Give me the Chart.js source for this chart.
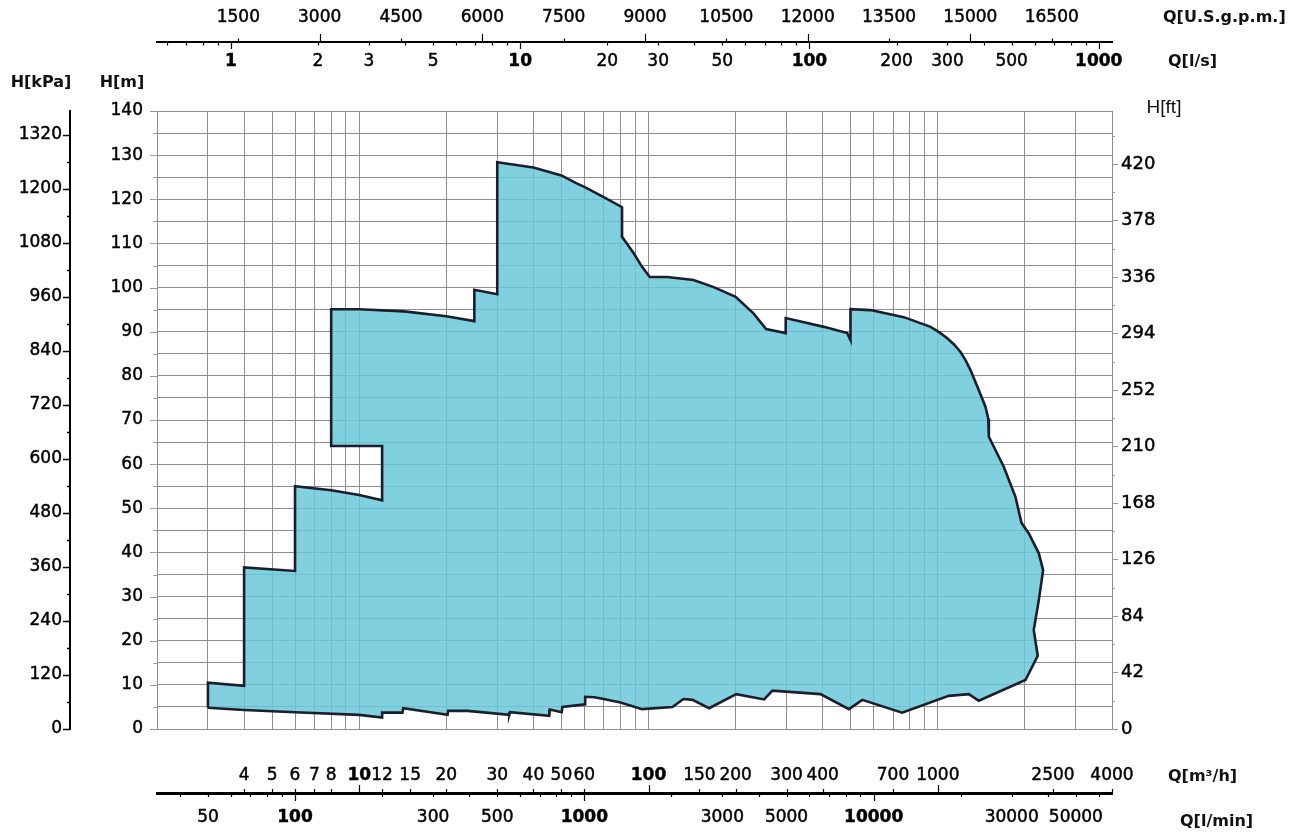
<!DOCTYPE html>
<html>
<head>
<meta charset="utf-8">
<title>Pump performance range</title>
<script src="https://cdn.jsdelivr.net/npm/chart.js@4.4.1/dist/chart.umd.min.js"></script>
<style>
  html, body { margin: 0; padding: 0; background: #ffffff; overflow: hidden; }
  #wrap { position: relative; width: 1308px; height: 840px; }
</style>
</head>
<body>
<div id="wrap"><canvas id="chart" width="1308" height="840"></canvas></div>
<script>
// ---------------- data (flow Q in m³/h, head H in m) ----------------
// upper / right edge of the performance field, from the lower-left corner clockwise
const upperFlow = [3, 3, 4, 4, 6, 6, 8, 10, 12, 12, 8, 8, 10, 14.3, 20, 25, 25, 30, 30, 40, 50, 56, 60, 70, 81, 81, 89, 95, 101, 116, 143, 168, 200, 231, 255, 298, 298, 404, 486, 499, 499, 585, 763, 944, 1010, 1078, 1138, 1198, 1248, 1297, 1377, 1461, 1494, 1501, 1690, 1855, 1946, 2063, 2234, 2312, 2234, 2146, 2215, 2009];
const upperHead = [4.8, 10.5, 9.8, 36.6, 35.8, 55.0, 54.1, 53.0, 51.8, 64.1, 64.1, 95.1, 95.1, 94.6, 93.5, 92.4, 99.5, 98.5, 128.4, 127.2, 125.4, 123.7, 122.8, 120.5, 118.2, 111.5, 107.7, 104.7, 102.4, 102.4, 101.7, 100.1, 97.9, 94.1, 90.6, 89.7, 93.1, 91.1, 89.7, 88.1, 95.1, 94.9, 93.3, 91.1, 89.9, 88.5, 87.1, 85.4, 83.5, 81.3, 77.2, 73.0, 70.3, 66.2, 59.4, 52.6, 46.7, 44.3, 39.8, 36.0, 29.2, 22.4, 16.6, 11.1];
// lower edge, from right to left back to the start
const lowerFlow = [1386, 1280, 1091, 753, 548, 493, 393, 268, 251, 201, 162, 142, 132, 121, 95, 80, 70, 65, 60.4, 60.4, 50.4, 50.1, 45.6, 45.4, 33.2, 33.0, 23.7, 20.3, 20.2, 14.2, 14.1, 12, 12, 10, 6, 4, 3];
const lowerHead = [6.4, 7.9, 7.5, 3.7, 6.6, 4.5, 7.9, 8.7, 6.7, 7.9, 4.7, 6.6, 6.8, 5.0, 4.5, 6.0, 6.8, 7.2, 7.3, 5.6, 5.0, 3.8, 4.4, 3.0, 3.8, 3.2, 4.1, 4.1, 3.2, 4.7, 3.7, 3.7, 2.6, 3.2, 3.8, 4.3, 4.8];

// ---------------- axis ranges and tick labels ----------------
const flowRange = [2, 4000];       // m³/h
const headRange = [0, 140];        // m
const m3hLabels  = [4, 5, 6, 7, 8, 10, 12, 15, 20, 30, 40, 50, 60, 100, 150, 200, 300, 400, 700, 1000, 2500, 4000];
const lminLabels = [50, 100, 300, 500, 1000, 3000, 5000, 10000, 30000, 50000];
const lsLabels   = [1, 2, 3, 5, 10, 20, 30, 50, 100, 200, 300, 500, 1000];
const gpmLabels  = [1500, 3000, 4500, 6000, 7500, 9000, 10500, 12000, 13500, 15000, 16500];
const kpaLabels  = [0, 120, 240, 360, 480, 600, 720, 840, 960, 1080, 1200, 1320];
const mLabels    = [0, 10, 20, 30, 40, 50, 60, 70, 80, 90, 100, 110, 120, 130, 140];
const ftLabels   = [0, 42, 84, 126, 168, 210, 252, 294, 336, 378, 420];
const m3hBold  = [10, 100];
const lminBold = [100, 1000, 10000];
const lsBold   = [1, 10, 100, 1000];

// unit conversions
const M_TO_KPA = 9.80665, M_TO_FT = 3.28084;
const M3H_TO_LMIN = 1000 / 60, M3H_TO_LS = 1 / 3.6, M3H_TO_GPM = 4.402868;

// ---------------- helpers ----------------
function logSteps(min, max) {
  const out = [];
  for (let e = Math.floor(Math.log10(min)); e <= Math.ceil(Math.log10(max)); e++) {
    for (let m = 1; m <= 9; m++) {
      const v = +(m * Math.pow(10, e)).toPrecision(6);
      if (v >= min * 0.9999 && v <= max * 1.0001) out.push(v);
    }
  }
  return out;
}
function stepList(first, last, step) {
  const out = [];
  for (let v = first; v <= last + 1e-9; v += step) out.push(+v.toFixed(6));
  return out;
}
const isDecade = v => Math.abs(Math.log10(v) - Math.round(Math.log10(v))) < 1e-9;
const setTicks = list => scale => { scale.ticks = list.map(v => ({ value: v })); };
const FONT = 'DejaVu Sans';
const tickFont = (boldList, size) => (ctx) => ({
  family: FONT, size: size || 17,
  weight: (boldList && ctx.tick && boldList.includes(ctx.tick.value)) ? 'bold' : 'normal'
});
const labelStyle = (boldList, padding, size) => ({
  autoSkip: false, maxRotation: 0, padding, color: '#000',
  textStrokeColor: '#000', textStrokeWidth: 0.45,
  font: tickFont(boldList, size)
});

const outline = upperFlow.map((q, i) => ({ x: q, y: upperHead[i] }))
  .concat(lowerFlow.map((q, i) => ({ x: q, y: lowerHead[i] })));

// ---------------- plugins: small tick marks and unit titles ----------------
const tickMarks = {
  id: 'tickMarks',
  afterDraw(chart) {
    const { ctx, scales: s } = chart;
    ctx.save();
    const hTicks = (scale, values, y, lenFn, dir, color, w) => {
      ctx.strokeStyle = color; ctx.lineWidth = w; ctx.beginPath();
      values.forEach(v => {
        const x = Math.round(scale.getPixelForValue(v)) + 0.5;
        ctx.moveTo(x, y); ctx.lineTo(x, y + dir * lenFn(v));
      });
      ctx.stroke();
    };
    const vTicks = (scale, values, x, lenFn, dir, color, w) => {
      ctx.strokeStyle = color; ctx.lineWidth = w; ctx.beginPath();
      values.forEach(v => {
        const y = Math.round(scale.getPixelForValue(v)) + 0.5;
        ctx.moveTo(x, y); ctx.lineTo(x + dir * lenFn(v), y);
      });
      ctx.stroke();
    };
    // kPa axis
    const kpaMax = headRange[1] * M_TO_KPA;
    vTicks(s.kpa, stepList(0, kpaMax, 60), s.kpa.right, v => (v % 120 === 0 ? 7 : 3), -1, '#000', 1.5);
    // m axis
    vTicks(s.y, stepList(0, headRange[1], 5), s.y.right, v => (v % 10 === 0 ? 7 : 3.5), -1, '#999', 1);
    // ft axis
    vTicks(s.ft, stepList(0, headRange[1] * M_TO_FT, 21), s.ft.left, v => (v % 42 === 0 ? 6 : 3), 1, '#999', 1);
    // US gpm (upwards from the top line)
    const yTop = s.xGpm.bottom;
    hTicks(s.xGpm, gpmLabels, yTop, v => (v % 3000 === 0 ? 8 : 3.5), -1, '#000', 1.2);
    // l/s (downwards from the top line)
    hTicks(s.xLs, logSteps(flowRange[0] * M3H_TO_LS, flowRange[1] * M3H_TO_LS), yTop, v => (isDecade(v) ? 7 : 3.5), 1, '#000', 1.2);
    // m³/h (upwards from the bottom line)
    const yBot = s.xLmin.top;
    hTicks(s.x, m3hLabels, yBot, v => (isDecade(v) ? 8 : 4), -1, '#000', 1.2);
    // l/min (downwards from the bottom line)
    hTicks(s.xLmin, logSteps(flowRange[0] * M3H_TO_LMIN, flowRange[1] * M3H_TO_LMIN), yBot, v => (isDecade(v) ? 8 : 4), 1, '#000', 1.2);
    ctx.restore();
  }
};

const unitTitles = {
  id: 'unitTitles',
  afterDraw(chart) {
    const { ctx, chartArea: a, scales: s } = chart;
    ctx.save();
    ctx.fillStyle = '#111';
    ctx.textBaseline = 'middle';
    const bold = 'bold 16px "' + FONT + '"';
    const put = (txt, x, y, align, font) => { ctx.font = font; ctx.textAlign = align; ctx.fillText(txt, x, y); };
    put('H[kPa]', s.kpa.right - 29, a.top - 28, 'center', bold);
    put('H[m]', s.y.right - 35, a.top - 28, 'center', bold);
    put('H[ft]', a.right + 52, a.top - 3, 'center', '19px "Liberation Sans"');
    put('Q[U.S.g.p.m.]', a.right + 51, s.xGpm.bottom - 24, 'left', bold);
    put('Q[l/s]', a.right + 56, a.top - 49, 'left', bold);
    put('Q[m³/h]', a.right + 56, s.x.top + 48, 'left', bold);
    put('Q[l/min]', a.right + 68, s.xLmin.top + 29, 'left', bold);
    ctx.restore();
  }
};

// ---------------- chart ----------------
const GRID = '#8f8f8f';
new Chart(document.getElementById('chart'), {
  type: 'scatter',
  data: {
    datasets: [{
      data: outline,
      xAxisID: 'x',
      yAxisID: 'y',
      showLine: true,
      fill: 'shape',
      tension: 0,
      pointRadius: 0,
      borderColor: '#1b1f2b',
      borderWidth: 2.6,
      borderJoinStyle: 'miter',
      backgroundColor: 'rgba(104, 199, 217, 0.84)'
    }]
  },
  options: {
    responsive: false,
    animation: false,
    events: [],
    layout: { padding: 0 },
    plugins: { legend: { display: false }, tooltip: { enabled: false }, title: { display: false } },
    scales: {
      xGrid: {
        type: 'logarithmic', position: 'bottom', weight: 0, bounds: 'data',
        min: flowRange[0], max: flowRange[1],
        afterBuildTicks: setTicks(logSteps(flowRange[0], flowRange[1])),
        afterFit: sc => { sc.height = 0; },
        ticks: { display: false },
        grid: { color: GRID, lineWidth: 1, drawTicks: false },
        border: { display: false }
      },
      x: {
        type: 'logarithmic', position: 'bottom', weight: 1, bounds: 'data',
        min: flowRange[0], max: flowRange[1],
        afterBuildTicks: setTicks(m3hLabels),
        afterFit: sc => { sc.height = 64; },
        grid: { display: false, drawTicks: false },
        border: { display: false },
        ticks: Object.assign(labelStyle(m3hBold, 36), { callback: v => String(v) })
      },
      xLmin: {
        type: 'logarithmic', position: 'bottom', weight: 2, bounds: 'data',
        min: flowRange[0] * M3H_TO_LMIN, max: flowRange[1] * M3H_TO_LMIN,
        afterBuildTicks: setTicks(lminLabels),
        afterFit: sc => { sc.height = 47; },
        grid: { display: false, drawTicks: false },
        border: { display: true, color: '#000', width: 3 },
        ticks: Object.assign(labelStyle(lminBold, 14), { callback: v => String(v) })
      },
      xLs: {
        type: 'logarithmic', position: 'top', weight: 1, bounds: 'data',
        min: flowRange[0] * M3H_TO_LS, max: flowRange[1] * M3H_TO_LS,
        afterBuildTicks: setTicks(lsLabels),
        afterFit: sc => { sc.height = 69; },
        grid: { display: false, drawTicks: false },
        border: { display: false },
        ticks: Object.assign(labelStyle(lsBold, 39), { callback: v => String(v) })
      },
      xGpm: {
        type: 'linear', position: 'top', weight: 2, bounds: 'data',
        min: 0, max: flowRange[1] * M3H_TO_GPM,
        afterBuildTicks: setTicks(gpmLabels),
        afterFit: sc => { sc.height = 42; },
        grid: { display: false, drawTicks: false },
        border: { display: true, color: '#000', width: 2 },
        ticks: Object.assign(labelStyle(null, 14), { callback: v => String(v) })
      },
      y: {
        type: 'linear', position: 'left', weight: 1, bounds: 'data',
        min: headRange[0], max: headRange[1],
        afterBuildTicks: setTicks(stepList(headRange[0], headRange[1], 5)),
        afterFit: sc => { sc.width = 87; },
        grid: { color: GRID, lineWidth: 1, drawTicks: false },
        border: { display: false },
        ticks: Object.assign(labelStyle(null, 14), { callback: v => (mLabels.includes(v) ? String(v) : '') })
      },
      kpa: {
        type: 'linear', position: 'left', weight: 2, bounds: 'data',
        min: headRange[0] * M_TO_KPA, max: headRange[1] * M_TO_KPA,
        afterBuildTicks: setTicks(kpaLabels),
        afterFit: sc => { sc.width = 70; },
        grid: { display: false, drawTicks: false },
        border: { display: true, color: '#000', width: 2 },
        ticks: Object.assign(labelStyle(null, 8), { callback: v => String(v) })
      },
      ft: {
        type: 'linear', position: 'right', weight: 1, bounds: 'data',
        min: headRange[0] * M_TO_FT, max: headRange[1] * M_TO_FT,
        afterBuildTicks: setTicks(ftLabels),
        afterFit: sc => { sc.width = 196; },
        grid: { display: false, drawTicks: false },
        border: { display: false },
        ticks: Object.assign(labelStyle(null, 9, 18), { callback: v => String(v) })
      }
    }
  },
  plugins: [tickMarks, unitTitles]
});
</script>
</body>
</html>
